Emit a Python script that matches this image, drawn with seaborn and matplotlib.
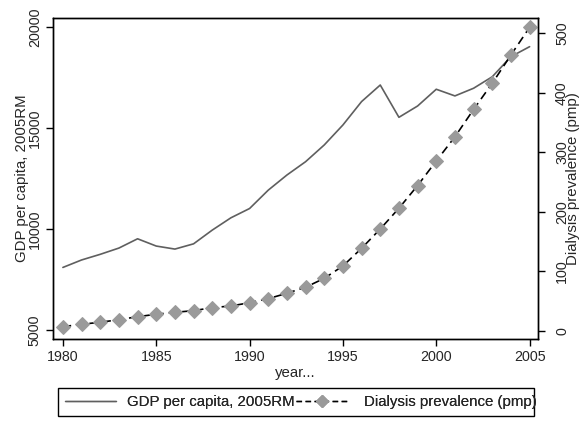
import matplotlib
matplotlib.use("Agg")
import matplotlib.pyplot as plt
from matplotlib.lines import Line2D
from matplotlib.patches import Rectangle
import seaborn as sns
import pandas as pd

years = list(range(1980, 2006))
gdp_per_capita = [8100, 8470, 8750, 9060, 9520, 9160, 9010, 9270, 9950, 10560,
                  11020, 11930, 12680, 13340, 14170, 15160, 16320, 17140, 15540, 16100,
                  16930, 16600, 16980, 17550, 18545, 19040]
dialysis_pmp = [6.7, 10.8, 14.1, 18.5, 23.5, 27.6, 30.9, 33.6, 38.7, 41.5,
                47, 53.8, 62.9, 73, 88, 108.8, 138.5, 171, 205.8, 244,
                285.3, 326, 372, 416, 463.5, 510]
x_ticks = [1980, 1985, 1990, 1995, 2000, 2005]
gdp_ticks = [5000, 10000, 15000, 20000]
dial_ticks = [0, 100, 200, 300, 400, 500]

gdp_label = "GDP per capita, 2005RM"
dial_label = "Dialysis prevalence (pmp)"

df = pd.DataFrame({"year": years, "gdp": gdp_per_capita, "dial": dialysis_pmp})

sns.set_style("ticks")
plt.rcParams["font.family"] = ["Liberation Sans", "DejaVu Sans"]

W, H = 581, 421
fig = plt.figure(figsize=(W / 100, H / 100), dpi=100)
ax = fig.add_axes([53 / W, 1 - 339 / H, (538 - 53) / W, (339 - 18) / H])
ax2 = ax.twinx()

gdp_color = "#5f5f5f"
marker_color = "#9a9a9a"
dash = (0, (5, 3))

sns.lineplot(data=df, x="year", y="gdp", ax=ax, color=gdp_color, linewidth=1.2)
sns.lineplot(data=df, x="year", y="dial", ax=ax2, color="black", linewidth=1.2,
             linestyle=dash, marker="D", markersize=7,
             markerfacecolor=marker_color, markeredgecolor=marker_color)

ax.set_xlim(1979.47, 2005.45)
ax.set_ylim(4554, 20461)
ax2.set_ylim(-14, 525.7)
ax.set_xticks(x_ticks)
ax.set_yticks(gdp_ticks)
ax2.set_yticks(dial_ticks)

for a in (ax, ax2):
    for s in a.spines.values():
        s.set_visible(True)
        s.set_linewidth(1.0)
        s.set_color("black")
    a.tick_params(length=5, width=1.0, color="black", labelsize=10.3)

ax.tick_params(axis="y", labelrotation=90, pad=3)
ax2.tick_params(axis="y", labelrotation=90, pad=7.3)
for lbl in ax.get_yticklabels() + ax2.get_yticklabels():
    lbl.set_va("center")
ax.tick_params(axis="x", pad=3)

ax.set_xlabel("year...", fontsize=10.8, labelpad=1)
ax.set_ylabel(gdp_label, fontsize=10.8)
ax2.set_ylabel(dial_label, fontsize=10.8, rotation=90)
axw = 538 - 53
for a, xc in ((ax, (22.5 - 53) / axw), (ax2, (573 - 53) / axw)):
    a.yaxis.label.set_va("center")
    a.yaxis.set_label_coords(xc, 0.5)

# legend: frame drawn as a separate box, entries placed one by one
fig.add_artist(Rectangle((58 / W, 1 - 416 / H), (534 - 58) / W, 28 / H,
                         transform=fig.transFigure, fill=False,
                         edgecolor="black", linewidth=1.0))
entries = [
    (Line2D([], [], color=gdp_color, linewidth=1.0), gdp_label, 65, 0.75),
    (Line2D([], [], color="black", linewidth=1.0, linestyle=(0, (4, 2.5)), marker="D",
            markersize=6, markerfacecolor=marker_color, markeredgecolor=marker_color),
     dial_label, 296, 1.15),
]
for handle, text, x0, tpad in entries:
    leg = fig.legend([handle], [text], loc="center left",
                     bbox_to_anchor=(x0 / W, 1 - 402 / H), frameon=False,
                     fontsize=10.8, handlelength=3.4, handletextpad=tpad,
                     borderpad=0, borderaxespad=0)
    fig.add_artist(leg)

fig.savefig("out.png", dpi=100)
